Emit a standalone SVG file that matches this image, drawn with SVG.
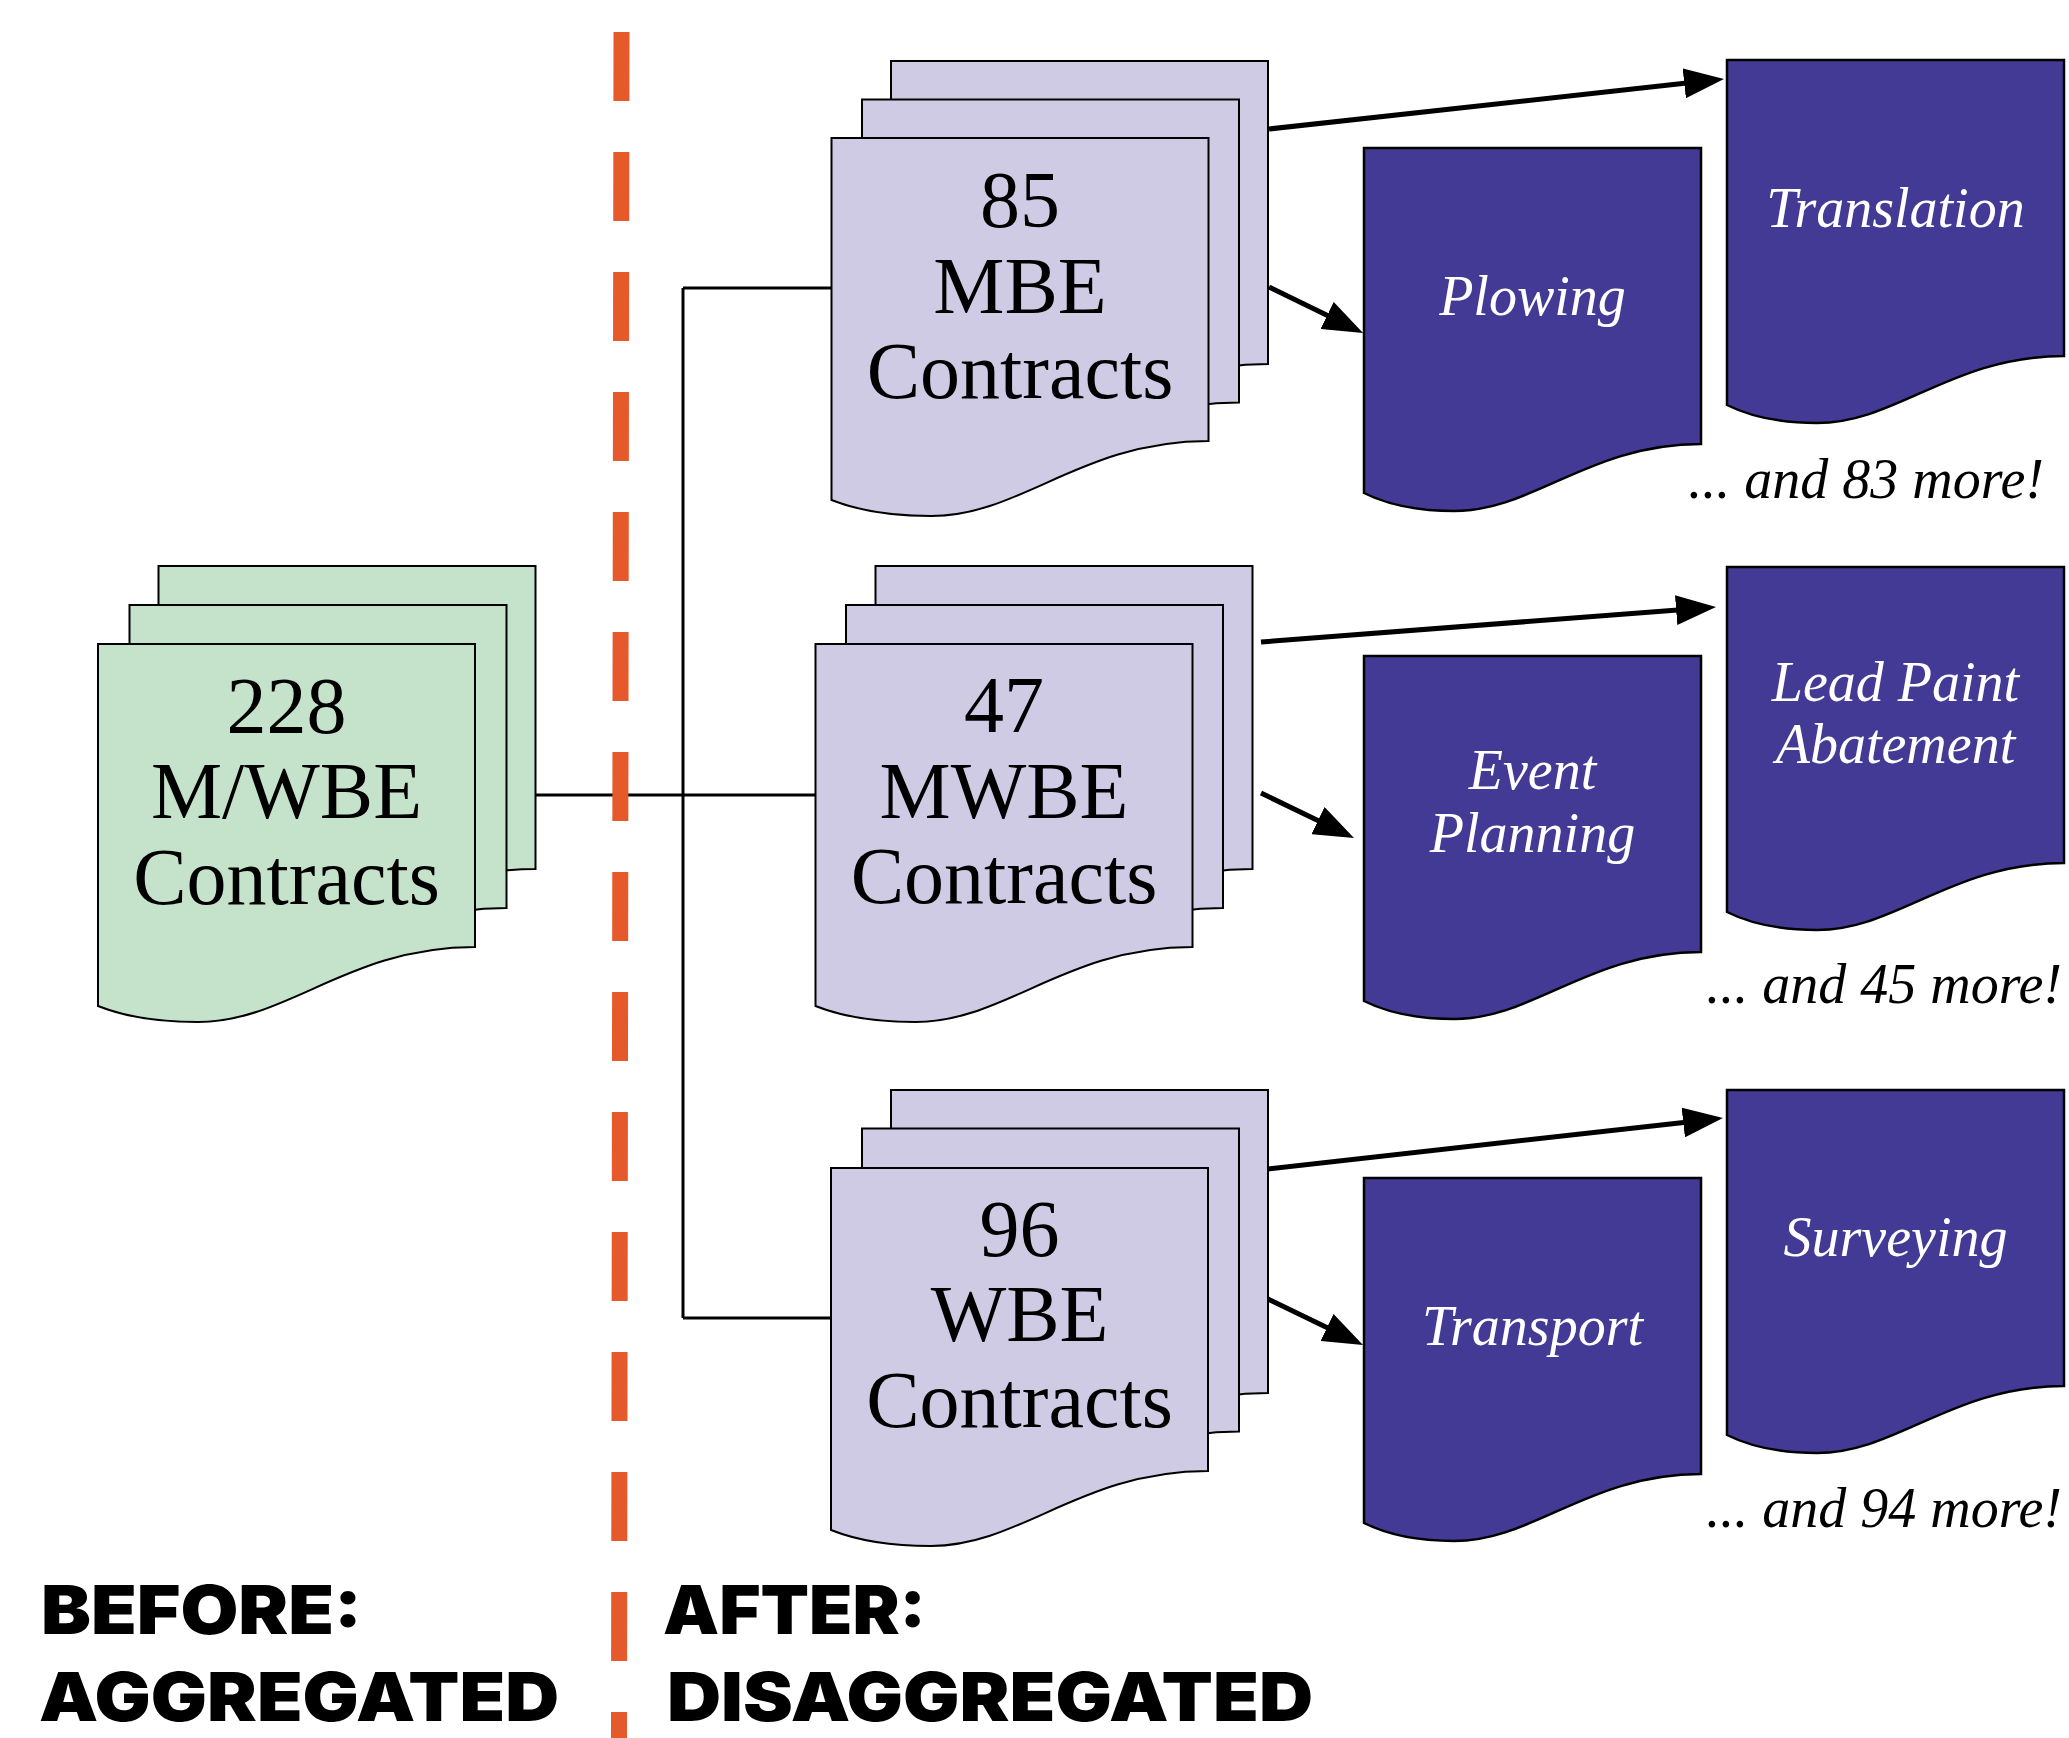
<svg xmlns="http://www.w3.org/2000/svg" xmlns:xlink="http://www.w3.org/1999/xlink" width="2069" height="1738" viewBox="0 0 2069 1738">
  <style>
    .doc { stroke: #000; stroke-width: 2; }
    .green { fill: #C5E3CB; }
    .lilac { fill: #CFCBE4; }
    .indigo { fill: #433A95; stroke-width: 2.5; }
    .num { font-family: "Liberation Serif", "DejaVu Serif", serif; font-size: 80px; text-anchor: middle; fill: #000; }
    .cat { font-family: "Liberation Serif", "DejaVu Serif", serif; font-style: italic; font-size: 56px; text-anchor: middle; fill: #fff; }
    .more { font-family: "Liberation Serif", "DejaVu Serif", serif; font-style: italic; font-size: 56px; text-anchor: end; fill: #000; }
    .head { font-family: Inter, "Liberation Sans", sans-serif; font-weight: 900; font-size: 68px; fill: #000; }
    .wire { fill: none; stroke: #000; stroke-width: 3; }
    .arrow { fill: none; stroke: #000; stroke-width: 5; marker-end: url(#head); }
  </style>
  <defs>
    <!-- page outline with wavy bottom edge -->
    <path id="page" d="M0,0 H377 V303 C250,303 190,378 100,378 C50,378 20,370 0,362 Z"/>
    <path id="card" d="M0,0 H337 V296 C225,296 170,363 90,363 C45,363 18,354 0,345 Z"/>
    <marker id="head" markerUnits="userSpaceOnUse" viewBox="0 0 40 30" markerWidth="40" markerHeight="30" refX="5" refY="15" orient="auto">
      <path d="M0,0 L40,15 L0,30 Z" fill="#000"/>
    </marker>
  </defs>

  <!-- connectors -->
  <g id="connectors">
    <line class="wire" x1="536" y1="795" x2="816" y2="795"/>
    <line class="wire" x1="683" y1="288" x2="683" y2="1318"/>
    <line class="wire" x1="683" y1="288" x2="832" y2="288"/>
    <line class="wire" x1="683" y1="1318" x2="832" y2="1318"/>
    <line class="arrow" x1="1269" y1="129" x2="1689.2" y2="82.8"/>
    <line class="arrow" x1="1269" y1="287" x2="1331.6" y2="317.6"/>
    <line class="arrow" x1="1261" y1="642" x2="1681.1" y2="609.7"/>
    <line class="arrow" x1="1261" y1="793" x2="1322.5" y2="822.8"/>
    <line class="arrow" x1="1268" y1="1169" x2="1688.2" y2="1121.9"/>
    <line class="arrow" x1="1268" y1="1299" x2="1331.5" y2="1329.7"/>
  </g>

  <!-- divider between the two halves -->
  <line id="divider" x1="621.5" y1="32" x2="619" y2="1738" stroke="#E5592B" stroke-width="16" stroke-dasharray="69 51"/>

  <!-- aggregated stack -->
  <g id="aggregated">
    <use xlink:href="#page" class="doc green" x="158.5" y="566"/>
    <use xlink:href="#page" class="doc green" x="129.5" y="605"/>
    <use xlink:href="#page" class="doc green" x="98" y="644"/>
    <text class="num" x="286.5" y="733">228</text>
    <text class="num" x="286.5" y="818">M/WBE</text>
    <text class="num" x="286.5" y="904">Contracts</text>
  </g>

  <!-- disaggregated stacks -->
  <g id="mbe">
    <use xlink:href="#page" class="doc lilac" x="891" y="61"/>
    <use xlink:href="#page" class="doc lilac" x="862" y="99.5"/>
    <use xlink:href="#page" class="doc lilac" x="831.5" y="138"/>
    <text class="num" x="1020" y="227">85</text>
    <text class="num" x="1020" y="312.5">MBE</text>
    <text class="num" x="1020" y="398">Contracts</text>
  </g>
  <g id="mwbe">
    <use xlink:href="#page" class="doc lilac" x="875.5" y="566"/>
    <use xlink:href="#page" class="doc lilac" x="846" y="605"/>
    <use xlink:href="#page" class="doc lilac" x="815.5" y="644"/>
    <text class="num" x="1004" y="732">47</text>
    <text class="num" x="1004" y="817.5">MWBE</text>
    <text class="num" x="1004" y="903">Contracts</text>
  </g>
  <g id="wbe">
    <use xlink:href="#page" class="doc lilac" x="891" y="1090"/>
    <use xlink:href="#page" class="doc lilac" x="862" y="1128.5"/>
    <use xlink:href="#page" class="doc lilac" x="831" y="1168"/>
    <text class="num" x="1019.5" y="1256">96</text>
    <text class="num" x="1019.5" y="1341">WBE</text>
    <text class="num" x="1019.5" y="1427">Contracts</text>
  </g>

  <!-- example categories -->
  <g id="plowing">
    <use xlink:href="#card" class="doc indigo" x="1364" y="148"/>
    <text class="cat" x="1532.5" y="315">Plowing</text>
  </g>
  <g id="translation">
    <use xlink:href="#card" class="doc indigo" x="1727" y="60"/>
    <text class="cat" x="1895.5" y="227">Translation</text>
  </g>
  <g id="event-planning">
    <use xlink:href="#card" class="doc indigo" x="1364" y="656"/>
    <text class="cat" x="1532.5" y="789">Event</text>
    <text class="cat" x="1532.5" y="852">Planning</text>
  </g>
  <g id="lead-paint">
    <use xlink:href="#card" class="doc indigo" x="1727" y="567"/>
    <text class="cat" x="1895.5" y="701">Lead Paint</text>
    <text class="cat" x="1895.5" y="763">Abatement</text>
  </g>
  <g id="transport">
    <use xlink:href="#card" class="doc indigo" x="1364" y="1178"/>
    <text class="cat" x="1532.5" y="1345">Transport</text>
  </g>
  <g id="surveying">
    <use xlink:href="#card" class="doc indigo" x="1727" y="1090"/>
    <text class="cat" x="1895.5" y="1256">Surveying</text>
  </g>

  <!-- remainder counts -->
  <g id="remainders">
    <text class="more" x="2044" y="498">... and 83 more!</text>
    <text class="more" x="2062" y="1003">... and 45 more!</text>
    <text class="more" x="2062" y="1527">... and 94 more!</text>
  </g>

  <!-- section headings -->
  <g id="headings">
    <text class="head" x="41" y="1634" textLength="321" lengthAdjust="spacingAndGlyphs">BEFORE:</text>
    <text class="head" x="39" y="1721" textLength="520" lengthAdjust="spacingAndGlyphs">AGGREGATED</text>
    <text class="head" x="663" y="1634" textLength="263" lengthAdjust="spacingAndGlyphs">AFTER:</text>
    <text class="head" x="667" y="1721" textLength="646" lengthAdjust="spacingAndGlyphs">DISAGGREGATED</text>
  </g>
</svg>
